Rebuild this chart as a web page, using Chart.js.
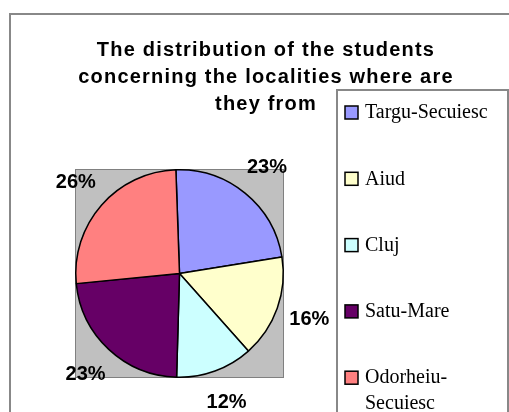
<!DOCTYPE html>
<html>
<head>
<meta charset="utf-8">
<script src="https://cdn.jsdelivr.net/npm/chart.js@4/dist/chart.umd.min.js"></script>
<style>
    html, body { margin: 0; padding: 0; background: #fff; }
    canvas { display: block; }
</style>
</head>
<body>
<canvas id="piechart" width="509" height="412"></canvas>
<script>
const titleLines = ['The distribution of the students', 'concerning the localities where are', 'they from'];
const localities = ['Targu-Secuiesc', 'Aiud', 'Cluj', 'Satu-Mare', 'Odorheiu-Secuiesc'];
const shares = [23, 16, 12, 23, 26];
const sliceColors = ['#9999FF', '#FFFFCC', '#CCFFFF', '#660066', '#FF8080'];

// frame, title, gray plot area, percent labels and the boxed legend
const excelLook = {
    id: 'excelLook',
    beforeDraw(chart) {
        const ctx = chart.ctx;
        const a = chart.chartArea;
        ctx.save();
        ctx.fillStyle = '#fff';
        ctx.fillRect(0, 0, chart.width, chart.height);
        // outer chart frame
        ctx.strokeStyle = '#888';
        ctx.lineWidth = 2;
        ctx.strokeRect(10, 14, chart.width + 20, chart.height + 20);
        // plot area
        ctx.fillStyle = '#C0C0C0';
        ctx.fillRect(a.left, a.top, a.width, a.height);
        ctx.strokeStyle = '#808080';
        ctx.lineWidth = 1;
        ctx.strokeRect(a.left + 0.5, a.top + 0.5, a.width - 1, a.height - 1);
        // title
        ctx.fillStyle = '#000';
        ctx.font = 'bold 20px "Liberation Sans", Arial, sans-serif';
        ctx.letterSpacing = '1.2px';
        ctx.textAlign = 'center';
        ctx.textBaseline = 'middle';
        titleLines.forEach((line, i) => ctx.fillText(line, 266, 50 + i * 27));
        ctx.restore();
    },
    afterDatasetsDraw(chart) {
        const ctx = chart.ctx;
        const meta = chart.getDatasetMeta(0);
        const total = shares.reduce((s, v) => s + v, 0);
        ctx.save();
        ctx.fillStyle = '#000';
        ctx.font = 'bold 20px "Liberation Sans", Arial, sans-serif';
        ctx.textAlign = 'center';
        ctx.textBaseline = 'middle';
        meta.data.forEach((arc, i) => {
            const { x, y, startAngle, endAngle, outerRadius } = arc.getProps(['x', 'y', 'startAngle', 'endAngle', 'outerRadius'], true);
            const mid = (startAngle + endAngle) / 2;
            const d = outerRadius + 34;
            const txt = Math.round(shares[i] / total * 100) + '%';
            ctx.fillText(txt, x + Math.cos(mid) * d, y + Math.sin(mid) * d);
        });
        ctx.restore();
    },
    afterDraw(chart) {
        const ctx = chart.ctx;
        const box = { left: 337, top: 90, right: 508 };
        ctx.save();
        ctx.strokeStyle = '#888';
        ctx.lineWidth = 2;
        ctx.strokeRect(box.left, box.top, box.right - box.left, chart.height);
        ctx.font = '20px "Liberation Serif", "Times New Roman", serif';
        ctx.textBaseline = 'middle';
        ctx.textAlign = 'left';
        const textX = box.left + 28;
        const maxW = box.right - textX - 4;
        localities.forEach((name, i) => {
            const cy = 112 + i * 66.3;
            ctx.fillStyle = sliceColors[i];
            ctx.fillRect(box.left + 8, cy - 6, 13, 13);
            ctx.strokeStyle = '#000';
            ctx.lineWidth = 1.5;
            ctx.strokeRect(box.left + 8, cy - 6, 13, 13);
            ctx.fillStyle = '#000';
            let lines = [name];
            if (ctx.measureText(name).width > maxW && name.includes('-')) {
                const k = name.indexOf('-') + 1;
                lines = [name.slice(0, k), name.slice(k)];
            }
            lines.forEach((l, j) => ctx.fillText(l, textX, cy + 1 + j * 26));
        });
        ctx.restore();
    }
};

new Chart('piechart', {
    type: 'pie',
    data: {
        labels: localities,
        datasets: [{
            data: shares,
            backgroundColor: sliceColors,
            borderColor: '#000',
            borderWidth: 1.5
        }]
    },
    options: {
        responsive: false,
        animation: false,
        rotation: -2,
        layout: { padding: { left: 75, top: 169, right: 225, bottom: 34 } },
        plugins: {
            legend: { display: false },
            title: { display: false },
            tooltip: { enabled: false }
        }
    },
    plugins: [excelLook]
});
</script>
</body>
</html>
